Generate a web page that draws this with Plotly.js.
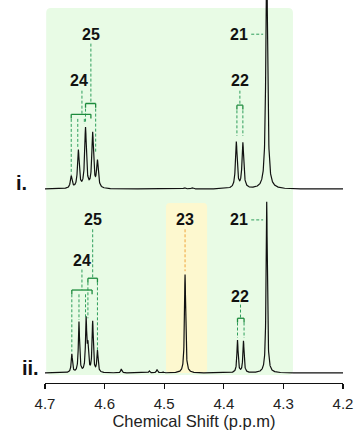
<!DOCTYPE html>
<html>
<head>
<meta charset="utf-8">
<script src="https://cdn.plot.ly/plotly-3.0.1.min.js"></script>
<style>html,body{margin:0;padding:0;background:#fff;}#chart{width:356px;height:431px;}</style>
</head>
<body>
<div id="chart"></div>
<script>
// ---- Data (peak positions in ppm, intensities in arbitrary units) ----
const tickValues = [4.7, 4.6, 4.5, 4.4, 4.3, 4.2];
const tickLabels = ["4.7", "4.6", "4.5", "4.4", "4.3", "4.2"];

// Spectrum i. (top)
const peaksTopPos    = [4.656, 4.644, 4.632, 4.620, 4.612, 4.466, 4.453, 4.379, 4.368, 4.328];
const peaksTopHeight = [7.2,   22.0,  35.0,  32.0,  15.5,  0.8,   0.8,   27.0,  26.4,  140];
// Spectrum ii. (bottom)
const peaksBotPos    = [4.655, 4.643, 4.631, 4.628, 4.620, 4.612, 4.572, 4.525, 4.512, 4.502, 4.465, 4.377, 4.367, 4.328];
const peaksBotHeight = [10.8,  29.5,  30.5,  14.0,  29.5,  12.5,  2.3,   1.2,   2.0,   0.6,   57.5,  19.0,  18.5,  100];

const labelsTop = ["25", "24", "22", "21"];
const labelsBot = ["25", "24", "23", "22", "21"];
const panelNames = ["i.", "ii."];

// ---- Build line shapes from the peak lists ----
function spectrum(pos, hts, hw) {
  const xs = [], ys = [];
  for (let i = 0; i <= 2600; i++) {
    const x = 4.705 - i * 0.0002;
    let y = 0;
    for (let k = 0; k < pos.length; k++) {
      const d = x - pos[k];
      y += hts[k] * hw * hw / (d * d + hw * hw);
    }
    xs.push(x); ys.push(y);
  }
  return {x: xs, y: ys};
}
const sTop = spectrum(peaksTopPos, peaksTopHeight, 0.0017);
const sBot = spectrum(peaksBotPos, peaksBotHeight, 0.0012);

const traces = [
  {x: sTop.x, y: sTop.y, xaxis: 'x', yaxis: 'y2', type: 'scatter', mode: 'lines',
   line: {color: '#111', width: 1.2}, hoverinfo: 'skip'},
  {x: sBot.x, y: sBot.y, xaxis: 'x', yaxis: 'y', type: 'scatter', mode: 'lines',
   line: {color: '#111', width: 1.2}, hoverinfo: 'skip'}
];

// ---- Decorations ----
const G_DASH = '#2f9e5c', G_SOLID = '#1c8a3c', ORANGE = '#f0a43a';
const shapes = [];
function rr(xl, xr, yb, yt, rx, ry, color) {
  const p = `M ${xl - rx},${yb} L ${xr + rx},${yb} Q ${xr},${yb} ${xr},${yb + ry} L ${xr},${yt - ry} Q ${xr},${yt} ${xr + rx},${yt} L ${xl - rx},${yt} Q ${xl},${yt} ${xl},${yt - ry} L ${xl},${yb + ry} Q ${xl},${yb} ${xl - rx},${yb} Z`;
  shapes.push({type: 'path', xref: 'x', yref: 'paper', path: p, fillcolor: color, line: {width: 0}, layer: 'below'});
}
rr(4.698, 4.284, 0.021, 0.979, 0.008, 0.013, '#e8fbe5');
rr(4.497, 4.428, 0.026, 0.470, 0.006, 0.010, '#fdf8cf');

function vd(x, y0, y1, yref, color) {
  shapes.push({type: 'line', xref: 'x', yref: yref, x0: x, x1: x, y0: y0, y1: y1,
    line: {color: color || G_DASH, width: 1, dash: '3px,2px'}});
}
function hd(x0, x1, y, yref) {
  shapes.push({type: 'line', xref: 'x', yref: yref, x0: x0, x1: x1, y0: y, y1: y,
    line: {color: G_DASH, width: 1, dash: '3px,2px'}});
}
function bracket(x0, x1, y, yref, tick) {
  shapes.push({type: 'line', xref: 'x', yref: yref, x0: x0, x1: x1, y0: y, y1: y, line: {color: G_SOLID, width: 1.3}});
  shapes.push({type: 'line', xref: 'x', yref: yref, x0: x0, x1: x0, y0: y, y1: y - tick, line: {color: G_SOLID, width: 1.3}});
  shapes.push({type: 'line', xref: 'x', yref: yref, x0: x1, x1: x1, y0: y, y1: y - tick, line: {color: G_SOLID, width: 1.3}});
}

// top panel (y2)
hd(4.354, 4.334, 90.5, 'y2');
vd(4.373, 57.5, 49, 'y2'); bracket(4.378, 4.368, 49, 'y2', 2.5);
vd(4.378, 46, 31, 'y2'); vd(4.368, 46, 31, 'y2');
vd(4.623, 85, 50, 'y2'); bracket(4.632, 4.615, 50, 'y2', 2.5);
vd(4.632, 47, 39, 'y2'); vd(4.615, 47, 21.5, 'y2');
vd(4.638, 57.5, 43.7, 'y2'); bracket(4.656, 4.623, 43.7, 'y2', 2.5);
vd(4.656, 41, 8.5, 'y2'); vd(4.645, 41, 24, 'y2'); vd(4.634, 41, 38, 'y2');

// bottom panel (y)
hd(4.354, 4.334, 89.5, 'y');
vd(4.372, 40, 32, 'y'); bracket(4.377, 4.366, 32, 'y', 2.5);
vd(4.377, 29.5, 20.5, 'y'); vd(4.366, 29.5, 20.5, 'y');
vd(4.465, 84, 59.5, 'y', ORANGE);
vd(4.620, 84, 55.4, 'y'); bracket(4.628, 4.612, 55.4, 'y', 2.5);
vd(4.628, 53, 32, 'y'); vd(4.612, 53, 13.5, 'y');
vd(4.638, 60.5, 48.5, 'y'); bracket(4.655, 4.621, 48.5, 'y', 2.5);
vd(4.655, 46, 12.5, 'y'); vd(4.643, 46, 31, 'y'); vd(4.632, 46, 32.5, 'y');

const LF = {family: 'Liberation Sans, Arial, sans-serif', size: 16, color: '#111', weight: 'bold'};
function lab(t, x, y, yref) {
  return {text: '<b>' + t + '</b>', x: x, y: y, xref: 'x', yref: yref, showarrow: false,
          xanchor: 'center', yanchor: 'middle', font: LF};
}
const annotations = [
  lab(labelsTop[0], 4.623, 90.5, 'y2'),
  lab(labelsTop[1], 4.643, 63.7, 'y2'),
  lab(labelsTop[2], 4.373, 63.7, 'y2'),
  lab(labelsTop[3], 4.374, 90.5, 'y2'),
  lab(labelsBot[0], 4.619, 89.5, 'y'),
  lab(labelsBot[1], 4.638, 66, 'y'),
  lab(labelsBot[2], 4.465, 89.5, 'y'),
  lab(labelsBot[3], 4.373, 44.6, 'y'),
  lab(labelsBot[4], 4.374, 89.5, 'y'),
  {text: '<b>' + panelNames[0] + '</b>', x: -0.079, y: 0.523, xref: 'paper', yref: 'paper', showarrow: false,
   xanchor: 'center', yanchor: 'middle', font: Object.assign({}, LF, {size: 20})},
  {text: '<b>' + panelNames[1] + '</b>', x: -0.049, y: 0.039, xref: 'paper', yref: 'paper', showarrow: false,
   xanchor: 'center', yanchor: 'middle', font: Object.assign({}, LF, {size: 20})}
];

const layout = {
  width: 356, height: 431,
  margin: {l: 45, r: 13, t: 0, b: 48},
  paper_bgcolor: '#fff', plot_bgcolor: 'rgba(0,0,0,0)',
  showlegend: false,
  xaxis: {range: [4.7, 4.2], tickvals: tickValues, ticktext: tickLabels,
    showline: true, linecolor: '#111', linewidth: 1.2, ticks: 'outside', ticklen: 5, tickwidth: 1.2,
    tickcolor: '#111', showgrid: false, zeroline: false, ticklabelstandoff: 2,
    tickfont: {family: 'Liberation Sans, Arial, sans-serif', size: 15, color: '#222'},
    title: {text: 'Chemical Shift (p.p.m)', standoff: 3,
      font: {family: 'Liberation Sans, Arial, sans-serif', size: 16.5, color: '#222'}}},
  yaxis: {domain: [0, 0.475], range: [-5.85, 100.5], visible: false, fixedrange: true},
  yaxis2: {domain: [0.49, 1], range: [-3.68, 110.5], visible: false, anchor: 'x'},
  shapes: shapes,
  annotations: annotations
};

Plotly.newPlot('chart', traces, layout, {staticPlot: true, displayModeBar: false});
</script>
</body>
</html>
